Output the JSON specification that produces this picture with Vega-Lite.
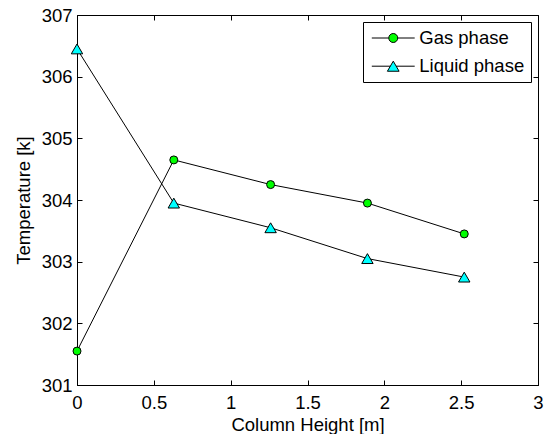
{
  "$schema": "https://vega.github.io/schema/vega-lite/v6.json",
  "width": 461,
  "height": 370,
  "autosize": {"type": "none"},
  "padding": {"left": 77, "top": 15, "right": 9, "bottom": 49},
  "background": "white",
  "config": {
    "font": "Liberation Sans",
    "view": {"stroke": "black", "strokeWidth": 1},
    "axis": {
      "grid": false,
      "domainColor": "black",
      "domainWidth": 1,
      "tickColor": "black",
      "tickWidth": 1,
      "tickSize": -5,
      "labelColor": "black",
      "labelFontSize": 18.5,
      "labelFont": "Liberation Sans",
      "titleFont": "Liberation Sans",
      "titleFontSize": 18.5,
      "titleFontWeight": "normal",
      "titleColor": "black",
      "labelFlush": false,
      "labelOverlap": false
    }
  },
  "data": {
    "values": [
      {"series": "Gas phase", "h": 0, "T": 301.55},
      {"series": "Gas phase", "h": 0.63, "T": 304.65},
      {"series": "Gas phase", "h": 1.26, "T": 304.25},
      {"series": "Gas phase", "h": 1.89, "T": 303.95},
      {"series": "Gas phase", "h": 2.52, "T": 303.45},
      {"series": "Liquid phase", "h": 0, "T": 306.45},
      {"series": "Liquid phase", "h": 0.63, "T": 303.95},
      {"series": "Liquid phase", "h": 1.26, "T": 303.55},
      {"series": "Liquid phase", "h": 1.89, "T": 303.05},
      {"series": "Liquid phase", "h": 2.52, "T": 302.75}
    ]
  },
  "resolve": {"axis": {"x": "independent", "y": "independent"}},
  "layer": [
    {
      "mark": {"type": "line", "color": "black", "strokeWidth": 1},
      "encoding": {
        "x": {"field": "h", "type": "quantitative", "scale": {"domain": [0, 3], "nice": false, "zero": false},
              "axis": {"orient": "bottom", "title": "Column Height [m]", "format": "~g", "values": [0, 0.5, 1, 1.5, 2, 2.5, 3], "labelPadding": 13, "titlePadding": 4}},
        "y": {"field": "T", "type": "quantitative", "scale": {"domain": [301, 307], "nice": false, "zero": false},
              "axis": {"orient": "left", "title": "Temperature [k]", "format": "~g", "values": [301, 302, 303, 304, 305, 306, 307], "labelPadding": 10, "titlePadding": 8}},
        "detail": {"field": "series"}
      }
    },
    {
      "transform": [{"filter": "datum.series === 'Gas phase'"}],
      "mark": {"type": "point", "shape": "circle", "filled": true, "fill": "#00ff00", "stroke": "black", "strokeWidth": 1, "opacity": 1, "size": 64},
      "encoding": {
        "x": {"field": "h", "type": "quantitative",
              "axis": {"orient": "top", "title": null, "labels": false, "domain": false, "values": [0, 0.5, 1, 1.5, 2, 2.5, 3]}},
        "y": {"field": "T", "type": "quantitative",
              "axis": {"orient": "right", "title": null, "labels": false, "domain": false, "values": [301, 302, 303, 304, 305, 306, 307]}}
      }
    },
    {
      "transform": [{"filter": "datum.series === 'Liquid phase'"}],
      "mark": {"type": "point", "shape": "triangle-up", "filled": true, "fill": "#00ffff", "stroke": "black", "strokeWidth": 1, "opacity": 1, "size": 130},
      "encoding": {
        "x": {"field": "h", "type": "quantitative", "axis": null},
        "y": {"field": "T", "type": "quantitative", "axis": null}
      }
    },
    {
      "transform": [{"filter": "datum.h < 0"}],
      "mark": {"type": "point", "filled": true, "stroke": "black", "strokeWidth": 1, "opacity": 1},
      "encoding": {
        "x": {"field": "h", "type": "quantitative", "axis": null},
        "y": {"field": "T", "type": "quantitative", "axis": null},
        "shape": {"field": "series", "type": "nominal",
                  "scale": {"domain": ["Gas phase", "Liquid phase"],
                            "range": ["M-2.32,0L-0.486,0M0.486,0L2.32,0M-0.486,0A0.486,0.486,0,1,0,0.486,0A0.486,0.486,0,1,0,-0.486,0Z",
                                      "M-2.32,0L-0.316,0M0.316,0L2.32,0M0,-0.546L0.632,0.546L-0.632,0.546Z"]},
                  "legend": {
                    "title": null,
                    "orient": "top-right",
                    "offset": 7,
                    "fillColor": "white",
                    "strokeColor": "black",
                    "padding": 6,
                    "cornerRadius": 0,
                    "labelFontSize": 18.5,
                    "labelFont": "Liberation Sans",
                    "labelColor": "black",
                    "labelOffset": 16,
                    "symbolOffset": 14.25,
                    "symbolSize": 342,
                    "symbolStrokeColor": "black",
                    "symbolStrokeWidth": 1,
                    "rowPadding": 8.2
                  }},
        "fill": {"field": "series", "type": "nominal",
                 "scale": {"domain": ["Gas phase", "Liquid phase"], "range": ["#00ff00", "#00ffff"]}},
        "stroke": {"field": "series", "type": "nominal",
                   "scale": {"domain": ["Gas phase", "Liquid phase"], "range": ["black", "black"]}}
      }
    }
  ]
}
